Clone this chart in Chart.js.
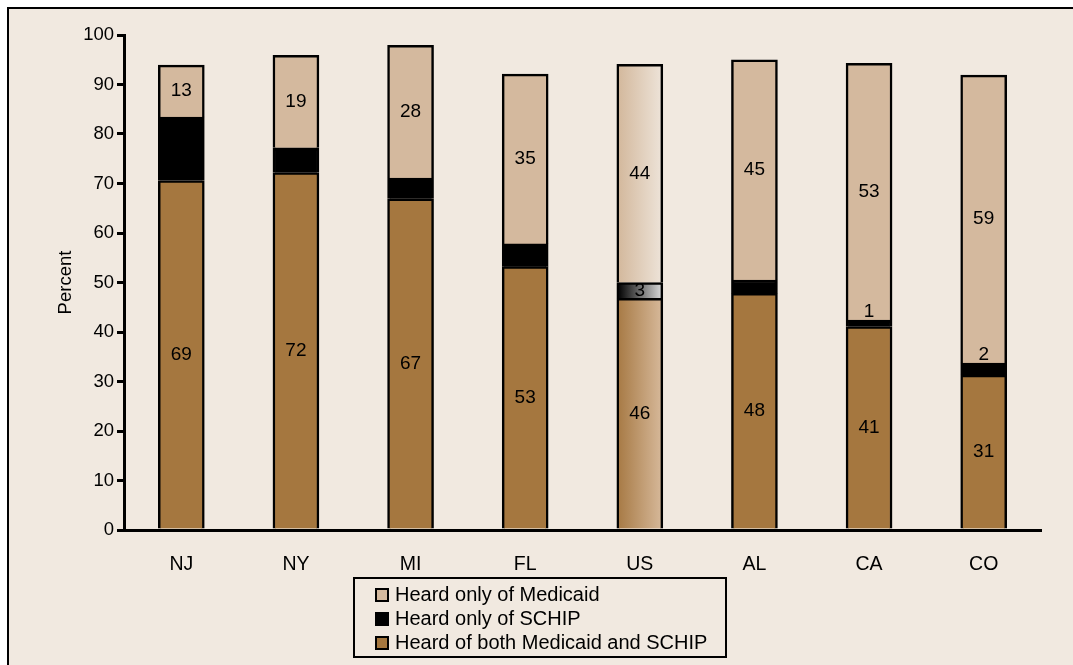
<!DOCTYPE html>
<html>
<head>
<meta charset="utf-8">
<script src="https://cdn.jsdelivr.net/npm/chart.js@4"></script>
<style>
body{margin:0;background:#fff;width:1073px;height:665px;overflow:hidden;font-family:"Liberation Sans",Arial,sans-serif;}
#frame{position:absolute;left:7px;top:7px;right:0;bottom:0;background:#f1e9e0;border-left:2px solid #000;border-top:2px solid #000;}
#wrap{position:absolute;left:0;top:0;width:1073px;height:665px;}
#legend{position:absolute;left:353px;top:577px;width:370px;height:74px;border:2px solid #000;padding-top:3px;box-sizing:content-box;}
#legend div{height:24px;line-height:24px;font-size:20px;color:#000;white-space:nowrap;}
#legend span{display:inline-block;width:14px;height:14px;box-sizing:border-box;border:2px solid #000;margin-left:20px;margin-right:6px;vertical-align:-1px;}
</style>
</head>
<body>
<div id="frame"></div>
<div id="wrap"><canvas id="chart"></canvas></div>
<div id="legend"></div>
<script>
// States
const states = ["NJ", "NY", "MI", "FL", "US", "AL", "CA", "CO"];

// bar segment heights as drawn (percent)
const bothValues = [70.6, 72.2, 66.9, 53.2, 46.8, 47.8, 41.1, 31.3];
const schipValues = [12.8, 5.0, 4.2, 4.6, 3.2, 2.7, 1.3, 2.4];
const medicaidValues = [10.5, 18.7, 26.8, 34.3, 44.1, 44.5, 51.9, 58.2];

// printed labels
const bothLabels = ["69", "72", "67", "53", "46", "48", "41", "31"];
const schipLabels = [null, null, null, null, "3", null, "1", "2"];
const medicaidLabels = ["13", "19", "28", "35", "44", "45", "53", "59"];

const yTicks = [0, 10, 20, 30, 40, 50, 60, 70, 80, 90, 100];

const FONT = "'Liberation Sans', Arial, sans-serif";

// the US bar is shaded left to right
function shade(plain, from, to) {
return function(ctx) {
if (ctx.type !== "data" || states[ctx.dataIndex] !== "US") return plain;
const cx = ctx.chart.scales.x.getPixelForValue(ctx.dataIndex);
const g = ctx.chart.ctx.createLinearGradient(cx - 22, 0, cx + 22, 0);
g.addColorStop(0, from);
g.addColorStop(1, to);
return g;
};
}

const segLabels = {
id: "segLabels",
afterDatasetsDraw(chart) {
const c = chart.ctx;
c.save();
c.font = "19px " + FONT;
c.fillStyle = "#000";
c.textAlign = "center";
c.textBaseline = "middle";
chart.data.datasets.forEach((ds, i) => {
const meta = chart.getDatasetMeta(i);
meta.data.forEach((bar, j) => {
const txt = ds.segLabels[j];
if (!txt) return;
const h = bar.base - bar.y;
const y = h < 14 ? bar.y - 8 : (bar.y + bar.base) / 2;
c.fillText(txt, bar.x, y);
});
});
c.restore();
}
};

new Chart(
document.getElementById("chart"),
{
type: "bar",

data: {
labels: states,

datasets: [
{
label: "Heard of both Medicaid and SCHIP",
data: bothValues,
segLabels: bothLabels,
backgroundColor: shade("#a5773f", "#a77a45", "#d6b899")
},
{
label: "Heard only of SCHIP",
data: schipValues,
segLabels: schipLabels,
backgroundColor: shade("#000000", "#000000", "#d8d8d8")
},
{
label: "Heard only of Medicaid",
data: medicaidValues,
segLabels: medicaidLabels,
backgroundColor: shade("#d4b99e", "#d3b89c", "#ede3d8")
}
]
},

options: {
responsive: true,
maintainAspectRatio: false,
animation: false,
layout: {
padding: { left: 40, top: 35, right: 32, bottom: 95 }
},
datasets: {
bar: {
barThickness: 46,
borderColor: "#000",
borderWidth: 2.5
}
},
plugins: {
legend: { display: false },
tooltip: { enabled: false }
},
scales: {
x: {
stacked: true,
grid: { display: false, drawTicks: false },
border: { display: true, color: "#000", width: 3 },
ticks: {
color: "#000",
font: { family: FONT, size: 19.5 },
padding: 23
},
afterFit(s) { s.height = 40; }
},
y: {
stacked: true,
min: 0,
max: 100,
afterBuildTicks(s) { s.ticks = yTicks.map(v => ({ value: v })); },
grid: {
drawOnChartArea: false,
drawTicks: true,
tickLength: 7,
color: "#000",
lineWidth: 3
},
border: { display: true, color: "#000", width: 3 },
ticks: {
color: "#000",
font: { family: FONT, size: 18.5 },
padding: 3
},
title: {
display: true,
text: "Percent",
color: "#000",
font: { family: FONT, size: 18.5 },
padding: { top: 15, bottom: 0 }
},
afterFit(s) { s.width = 84; }
}
}
},

plugins: [segLabels]
}
);

// legend, top segment first
const legend = document.getElementById("legend");
[
["Heard only of Medicaid", "#d4b99e"],
["Heard only of SCHIP", "#000000"],
["Heard of both Medicaid and SCHIP", "#a5773f"]
].forEach(([text, color]) => {
const row = document.createElement("div");
const box = document.createElement("span");
box.style.background = color;
row.appendChild(box);
row.appendChild(document.createTextNode(text));
legend.appendChild(row);
});
</script>
</body>
</html>
